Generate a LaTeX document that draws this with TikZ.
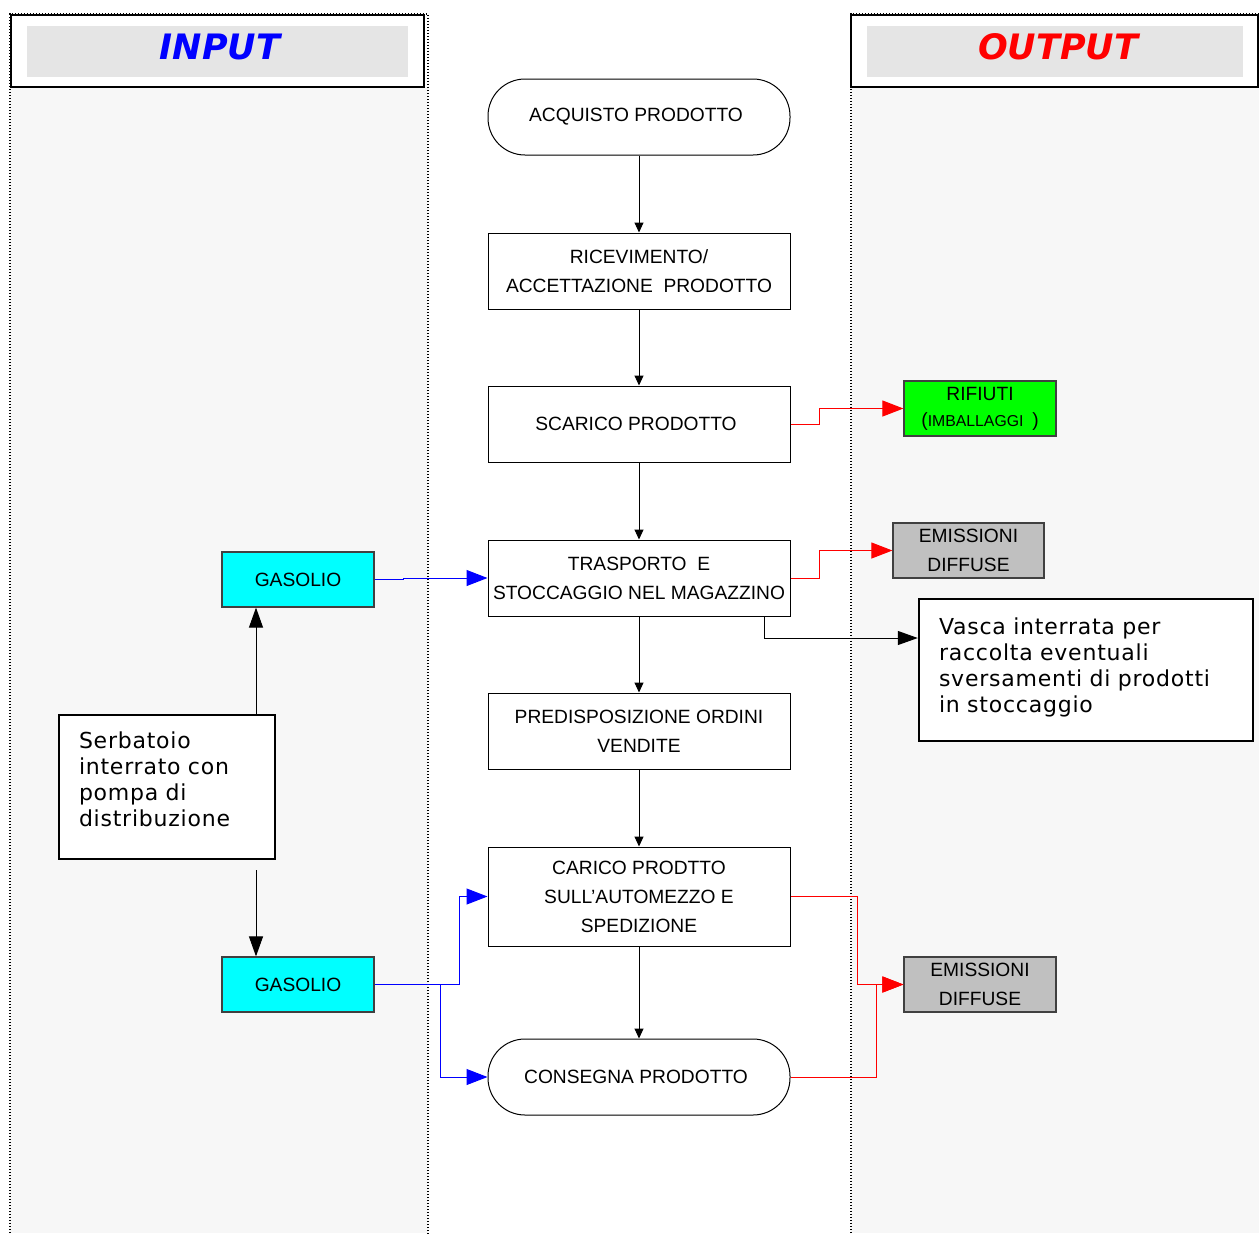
\documentclass[tikz,border=0pt]{standalone}
\usepackage{fontspec}
\setmainfont{Liberation Sans}
\newfontfamily\verd{DejaVu Sans}
\newfontfamily\verdwide{DejaVu Sans}[LetterSpace=3.5]
\usetikzlibrary{arrows.meta,calc}
\definecolor{lanebg}{HTML}{F7F7F7}
\definecolor{headbg}{HTML}{E5E5E5}
\definecolor{boxgray}{HTML}{C0C0C0}
\definecolor{boxedge}{HTML}{404040}
\definecolor{fuelcyan}{HTML}{00FFFF}
\definecolor{wastegreen}{HTML}{00FF00}
\tikzset{
  stepbox/.style={draw=black, line width=0.5pt, fill=white, minimum width=151pt, minimum height=38pt,
    inner sep=0pt, align=center, font=\fontsize{9.6}{14.5}\selectfont},
  stadium/.style={stepbox, rounded corners=18.5pt},
  tagbox/.style={draw=boxedge, line width=0.6pt, minimum width=76pt, minimum height=27.5pt,
    inner sep=0pt, align=center, font=\fontsize{9.6}{14.5}\selectfont},
  notebox/.style={draw=black, line width=1.2pt, fill=white, inner xsep=10pt, inner ysep=0pt,
    align=left, font=\verdwide\fontsize{11}{13}\selectfont},
  flow/.style={draw=black, line width=0.5pt, -{Triangle[length=5pt,width=4.5pt]}},
  bigflow/.style={draw=black, line width=0.5pt, -{Triangle[length=10pt,width=7pt]}},
  redflow/.style={draw=red, line width=0.5pt, -{Triangle[length=10.5pt,width=8pt]}},
  blueflow/.style={draw=blue, line width=0.5pt, -{Triangle[length=10.5pt,width=8pt]}},
  laneline/.style={line width=0.7pt, dash pattern=on 0.7pt off 0.8pt},
  heading/.style={font=\verd\bfseries\itshape\fontsize{17.5}{20}\selectfont}
}
\begin{document}
\begin{tikzpicture}[x=0.5pt, y=-0.5pt]
\useasboundingbox (0,0) rectangle (1259,1233);

% swimlanes
\fill[lanebg] (10,87) rectangle (428,1233);
\fill[lanebg] (851,87) rectangle (1259,1233);
\draw[laneline] (10,1233) -- (10,14) -- (428,14) -- (428,1233);
\draw[laneline] (851,1233) -- (851,14) -- (1259,14);

% lane headers
\draw[line width=1.2pt, fill=white] (11,15) rectangle (424,87);
\fill[headbg] (27,26) rectangle (408,77);
\node[heading, text=blue] (inlbl) at (220,47) {INPUT};
\draw[line width=1.2pt, fill=white] (851,15) rectangle (1258,87);
\fill[headbg] (867,26) rectangle (1243,77);
\node[heading, text=red] (outlbl) at (1058,47) {OUTPUT};

% main process chain
\node[stadium] (acq) at (639,117) {\raisebox{-1.5pt}{ACQUISTO\ PRODOTTO}\hspace{3pt}};
\node[stepbox] (ric) at (639,271) {RICEVIMENTO/\\ACCETTAZIONE\ \ PRODOTTO};
\node[stepbox] (sca) at (639,424) {SCARICO PRODOTTO\hspace{3pt}};
\node[stepbox] (tra) at (639,578) {TRASPORTO\ \ E\\STOCCAGGIO NEL MAGAZZINO};
\node[stepbox] (pre) at (639,731) {PREDISPOSIZIONE ORDINI\\VENDITE};
\node[stepbox, minimum height=49.5pt] (car) at (639,896.5) {CARICO PRODTTO\\SULL'AUTOMEZZO\ E\\SPEDIZIONE};
\node[stadium] (con) at (639,1077) {CONSEGNA\ PRODOTTO\hspace{3pt}};

% outputs
\node[tagbox, fill=wastegreen, font=\fontsize{9.6}{13}\selectfont] (rif) at (980,408.5)
  {RIFIUTI\\(\fontsize{7.9}{9}\selectfont IMBALLAGGI\ \ \fontsize{9.6}{13}\selectfont)};
\node[tagbox, fill=boxgray, minimum width=75.5pt] (em1) at (968.5,550.5) {EMISSIONI\\DIFFUSE};
\node[notebox, minimum width=167pt, minimum height=71pt, text width=147pt] (vas) at (1086,670)
  {Vasca interrata per\\raccolta eventuali\\sversamenti di prodotti\\in stoccaggio\\[-8pt]\mbox{}};
\node[tagbox, fill=boxgray] (em2) at (980,984.5) {EMISSIONI\\DIFFUSE};

% inputs
\node[tagbox, fill=fuelcyan] (gas1) at (298,579.5) {GASOLIO};
\node[notebox, minimum width=108pt, minimum height=72pt, text width=88pt] (ser) at (167,787)
  {Serbatoio\\interrato con\\pompa di\\distribuzione\\[-5pt]\mbox{}};
\node[tagbox, fill=fuelcyan] (gas2) at (298,984.5) {GASOLIO};

% main flow
\draw[flow] (acq) -- (ric);
\draw[flow] (ric) -- (sca);
\draw[flow] (sca) -- (tra);
\draw[flow] (tra) -- (pre);
\draw[flow] (pre) -- (car);
\draw[flow] (car) -- (con);

% outputs flow
\draw[redflow] (sca.east) -- ++(29,0) |- (rif.west);
\draw[redflow] (tra.east) -- ++(29,0) |- (em1.west);
\draw[flow, -{Triangle[length=10pt,width=7pt]}] ([xshift=-13pt]tra.south east) |- ([yshift=16pt]vas.west);
\draw[redflow] (car.east) -- ++(67,0) |- (em2.west);
\draw[redflow] (con.east) -- ++(86,0) |- (em2.west);

% inputs flow
\draw[blueflow] (gas1.east) -- ++(29,0) |- (tra.west);
\draw[bigflow] ([xshift=-21pt]gas1.south |- ser.north) -- ([xshift=-21pt]gas1.south);
\draw[bigflow] ($([xshift=-21pt]gas2.north |- ser.south)+(0,10)$) -- ([xshift=-21pt]gas2.north);
\draw[blueflow] (gas2.east) -- ++(85,0) |- (car.west);
\draw[blueflow] ($(gas2.east)+(66,0)$) |- (con.west);
\end{tikzpicture}
\end{document}
